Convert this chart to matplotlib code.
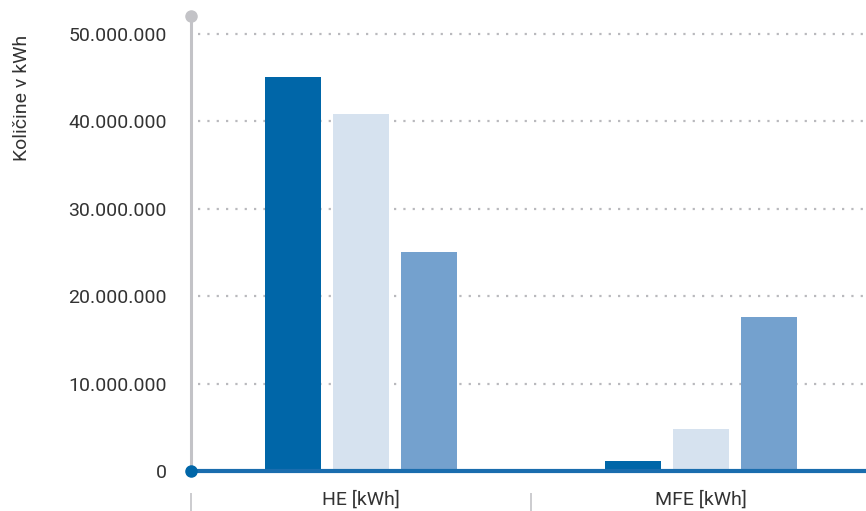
import numpy as np
import matplotlib.pyplot as plt
from matplotlib.ticker import FuncFormatter

plt.rcParams['font.family'] = ['Roboto', 'DejaVu Sans']

# --- Data ---
categories = ["HE [kWh]", "MFE [kWh]"]
series_a = [45_100_000, 1_130_000]
series_b = [40_800_000, 4_800_000]
series_c = [25_050_000, 17_600_000]
yticks = [0, 10_000_000, 20_000_000, 30_000_000, 40_000_000, 50_000_000]

colors = ['#0066a8', '#d6e2ef', '#74a1ce']
axis_gray = '#c3c3c7'
text_col = '#333333'

W, H = 866, 511
fig = plt.figure(figsize=(W / 100, H / 100), dpi=100)
# axes: left 191px, right 871px (slightly beyond canvas), bottom 471px, top 16px
ax = fig.add_axes([191 / W, 1 - 471 / H, (871 - 191) / W, (471 - 16) / H])

x = np.arange(len(categories))
offsets = [-0.2, 0.0, 0.2]
width = 0.162
for off, vals, c in zip(offsets, [series_a, series_b, series_c], colors):
    ax.bar(x + off, vals, width=width, color=c, zorder=2)

ax.set_xlim(-0.5, 1.5)
ax.set_ylim(0, 52_060_000)

# dotted grid
ax.set_yticks(yticks)
for v in yticks[1:]:
    ax.axhline(v, xmin=0.01, color='#b9b9bd', linestyle=(0, (1, 3.2)), linewidth=1.6, zorder=1)

ax.yaxis.set_major_formatter(FuncFormatter(lambda v, p: f"{int(v):,}".replace(",", ".")))
ax.tick_params(axis='y', length=0, pad=17.5, labelsize=14, labelcolor=text_col)

for s in ['top', 'right', 'bottom']:
    ax.spines[s].set_visible(False)
ax.spines['left'].set_color(axis_gray)
ax.spines['left'].set_linewidth(2.2)
ax.plot([0], [1], marker='o', markersize=8, color=axis_gray, transform=ax.transAxes,
        clip_on=False, zorder=4)

# zero line
ax.axhline(0, color='#1a6dae', linewidth=3, zorder=3, clip_on=False)
ax.plot([0], [0], marker='o', markersize=8, color='#0066a8', transform=ax.transAxes,
        clip_on=False, zorder=5)

# category labels and separator ticks
ax.set_xticks(x)
ax.set_xticklabels(categories)
ax.tick_params(axis='x', length=0, pad=14, labelsize=14, labelcolor=text_col)
ax.vlines([-0.5, 0.5], -0.048, -0.1, transform=ax.get_xaxis_transform(),
          color=axis_gray, linewidth=1.2, clip_on=False)

fig.text(22 / W, 1 - 98 / H, "Količine v kWh", rotation=90, ha='center', va='center',
         fontsize=14, color=text_col)

fig.savefig("out.png", dpi=100)
